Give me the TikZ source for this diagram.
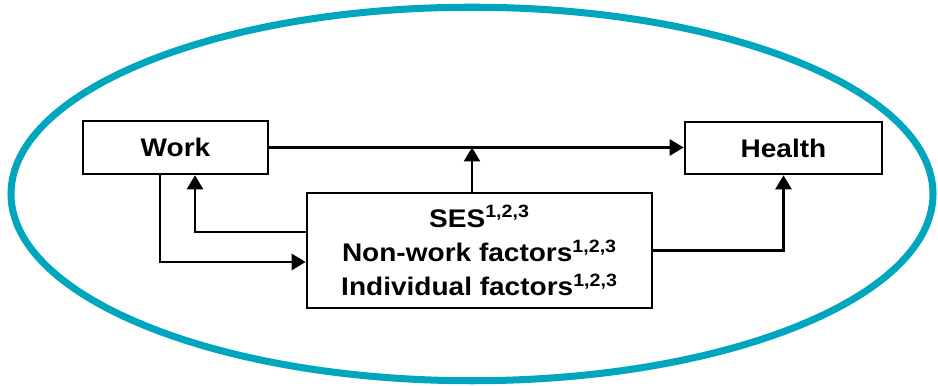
\documentclass[tikz,border=0pt]{standalone}
\usepackage{fontspec}
\setmainfont{Liberation Sans}[FakeStretch=1.1]
\usetikzlibrary{arrows.meta,positioning}
\definecolor{ringteal}{HTML}{00A6BE}
\tikzset{
  factorbox/.style={rectangle,draw=black,line width=1.5pt,inner sep=0pt,font=\fontsize{14.5}{19.4}\selectfont\bfseries},
  link/.style={line width=1.5pt,-{Triangle[length=0.28cm,width=0.32cm]}}
}
\newcommand{\sups}{\textsuperscript{1,2,3}}

\begin{document}
\begin{tikzpicture}
\useasboundingbox (0,0) rectangle (18.76,7.72);
% \draw[help lines] (0,0) grid (18,7);
\draw[ringteal,line width=4pt] (9.44,3.84) ellipse [x radius=9.22,y radius=3.735];
%
\node (work) [factorbox,minimum width=3.7cm,minimum height=1.06cm] at (3.51,4.77) {Work};
\node (health) [factorbox,minimum width=3.94cm,minimum height=1.04cm] at (15.67,4.76) {Health};
\node (mid) [factorbox,minimum width=6.9cm,minimum height=2.3cm,align=center] at (9.59,2.71)
  {SES\sups\\Non-work factors\sups\\Individual factors\sups};
\coordinate (joint) at (9.44,4.77);
%
\path[link](work.east) edge (work.east -| health.west);
\path[link](mid.north -| joint) edge (joint);
\draw[link]([yshift=0.37cm]mid.west) -| ([xshift=0.39cm]work.south);
\draw[link]([xshift=-0.31cm]work.south) |- ([yshift=-0.23cm]mid.west);
\draw[link](mid.east) -| (health.south);
\end{tikzpicture}
\end{document}
